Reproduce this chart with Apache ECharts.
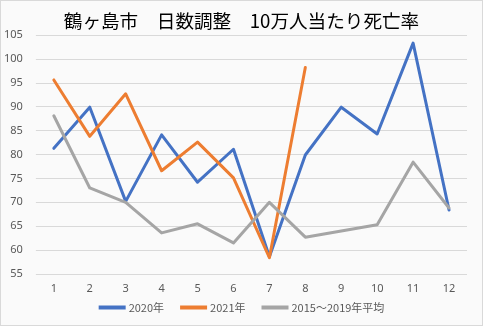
<!DOCTYPE html>
<html><head><meta charset="utf-8">
<script src="https://cdn.jsdelivr.net/npm/echarts@6/dist/echarts.min.js"></script>
<style>
html,body{margin:0;padding:0;background:#fff;}
#c{width:481px;height:324px;border:1px solid #d9d9d9;background:#fafafa;}
</style></head>
<body><div id="c"></div>
<script>
const months = ['1','2','3','4','5','6','7','8','9','10','11','12'];
const s2020 = [81.3, 89.9, 70.2, 84.1, 74.2, 81.1, 58.6, 79.9, 89.9, 84.3, 103.3, 68.4];
const s2021 = [95.6, 83.8, 92.7, 76.6, 82.6, 75.1, 58.4, 98.2];
const sAvg = [88.1, 73.0, 70.0, 63.6, 65.5, 61.5, 70.0, 62.7, 64.0, 65.3, 78.4, 68.8];
const seriesNames = ['2020年', '2021年', '2015～2019年平均'];
const colors = ['#4472C4', '#ED7D31', '#A5A5A5'];
const yMin = 55, yMax = 105, yStep = 5;

const chart = echarts.init(document.getElementById('c'));
const mk = (name, data, color) => ({
  name, type: 'line', data, symbol: 'none', smooth: false,
  lineStyle: {width: 3, color, cap: 'round', join: 'round'}, itemStyle: {color}
});
chart.setOption({
  animation: false,
  backgroundColor: '#fafafa',
  title: {
    text: '鶴ヶ島市　日数調整　10万人当たり死亡率',
    left: 'center', top: 6,
    textStyle: {fontFamily: 'Noto Sans CJK JP', fontSize: 18.6, fontWeight: 'normal', color: '#000'}
  },
  grid: {left: 34, right: 15, top: 34, bottom: 51},
  xAxis: {
    type: 'category', data: months, boundaryGap: true,
    axisLine: {show: false}, axisTick: {show: false},
    axisLabel: {color: '#595959', fontSize: 11, fontFamily: 'Noto Sans', margin: 9}
  },
  yAxis: {
    type: 'value', min: yMin, max: yMax, interval: yStep,
    axisLine: {show: false}, axisTick: {show: false},
    splitLine: {lineStyle: {color: '#d9d9d9', width: 1}},
    axisLabel: {color: '#595959', fontSize: 11, fontFamily: 'Noto Sans', margin: 13}
  },
  legend: {
    bottom: 7, left: 'center', itemWidth: 27, itemHeight: 4, itemGap: 16,
    icon: 'rect',
    textStyle: {color: '#595959', fontSize: 11, fontFamily: 'Noto Sans CJK JP', padding: [0,0,0,-2]},
    data: seriesNames
  },
  series: [
    mk(seriesNames[0], s2020, colors[0]),
    mk(seriesNames[1], s2021, colors[1]),
    mk(seriesNames[2], sAvg, colors[2])
  ]
});
</script></body></html>
